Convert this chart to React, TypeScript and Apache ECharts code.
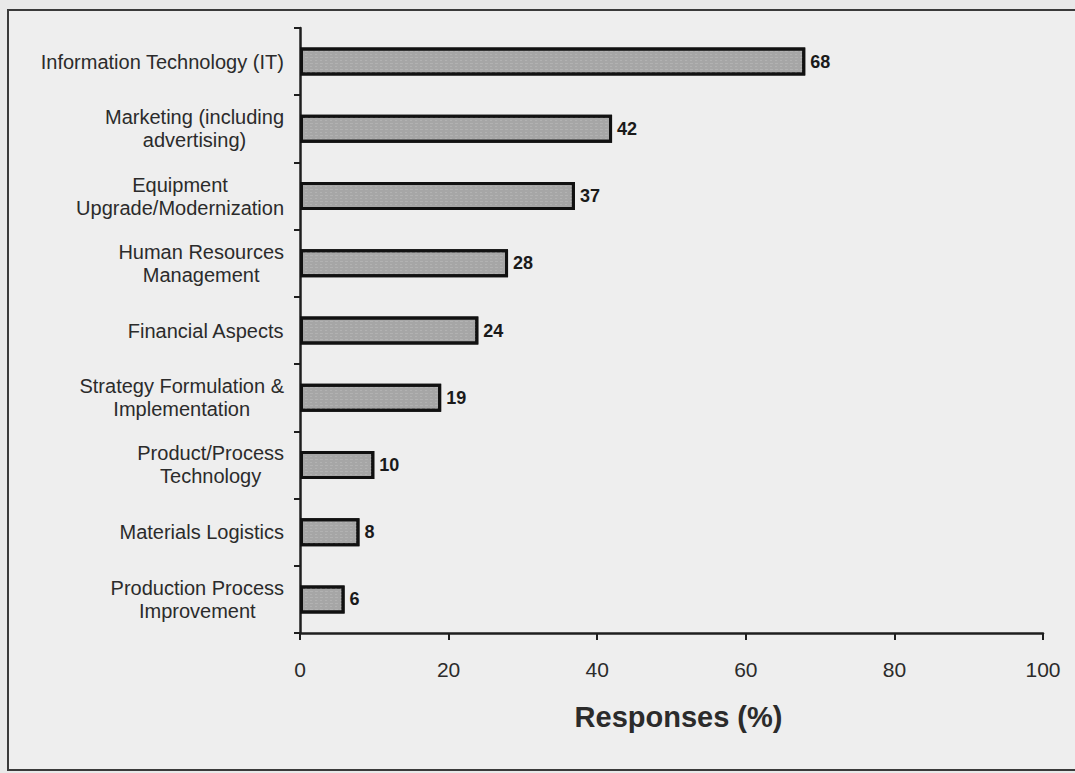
import React, { useEffect, useRef } from "react";
import * as echarts from "echarts";

// Improvement areas, listed top to bottom; "\n" splits the two-line labels.
const categories: string[] = [
  "Information Technology (IT)",
  "Marketing (including\nadvertising)",
  "Equipment\nUpgrade/Modernization",
  "Human Resources\nManagement",
  "Financial Aspects",
  "Strategy Formulation &\nImplementation",
  "Product/Process\nTechnology",
  "Materials Logistics",
  "Production Process\nImprovement",
];

// Share of responses (%) per area.
const responses: number[] = [68, 42, 37, 28, 24, 19, 10, 8, 6];

const xTicks = { min: 0, max: 100, interval: 20 };
const xTitle = "Responses (%)";

const TEXT = "#2b2b2b";
const LINE = "#1e1e1e";

export default function App() {
  const ref = useRef<HTMLDivElement>(null);

  useEffect(() => {
    document.body.style.margin = "0";
    document.body.style.background = "#e9e9e9";
    if (!ref.current) return;
    const chart = echarts.init(ref.current, null, { renderer: "svg" });

    chart.setOption({
      animation: false,
      backgroundColor: "#e9e9e9",
      textStyle: { fontFamily: "Arial, 'Liberation Sans', sans-serif" },
      graphic: [
        {
          type: "rect",
          z: -10,
          shape: { x: 8, y: 10, width: 1080, height: 760 },
          style: { fill: "#eeeeee", stroke: "#3a3a3a", lineWidth: 2 },
        },
      ],
      grid: { left: 300, right: 32, top: 28, bottom: 140, containLabel: false },
      xAxis: {
        type: "value",
        min: xTicks.min,
        max: xTicks.max,
        interval: xTicks.interval,
        splitLine: { show: false },
        axisLine: { show: true, lineStyle: { color: LINE, width: 2.5 } },
        axisTick: { show: true, length: 7, lineStyle: { color: LINE, width: 2 } },
        axisLabel: { color: TEXT, fontSize: 21, margin: 26 },
        name: xTitle,
        nameLocation: "middle",
        nameGap: 69,
        nameTextStyle: { color: TEXT, fontSize: 29, fontWeight: "bold", padding: [0, 0, 0, 14] },
      },
      yAxis: {
        type: "category",
        data: categories,
        inverse: true,
        axisLine: { show: true, lineStyle: { color: LINE, width: 2.5 } },
        axisTick: { show: true, length: 6, lineStyle: { color: LINE, width: 2 } },
        axisLabel: {
          margin: 16,
          color: TEXT,
          fontSize: 20,
          lineHeight: 23,
          formatter: (v: string) =>
            v
              .split("\n")
              .map((line) => `{c|${line}}`)
              .join("\n"),
          rich: { c: { align: "center", fontSize: 20, lineHeight: 23, color: TEXT } },
        },
      },
      series: [
        {
          type: "bar",
          data: responses,
          barWidth: 28,
          itemStyle: {
            color: "#a6a6a6",
            borderColor: "#111111",
            borderWidth: 3,
            decal: {
              symbol: "rect",
              symbolSize: 1,
              dashArrayX: [[3, 2], [2, 3]],
              dashArrayY: [1, 2],
              color: "rgba(200,200,200,0.35)",
              rotation: 0,
            },
          },
          label: {
            show: true,
            position: "right",
            distance: 5,
            color: "#1a1a1a",
            fontSize: 18,
            fontWeight: "bold",
          },
        },
      ],
    });

    return () => chart.dispose();
  }, []);

  return <div ref={ref} style={{ width: 1075, height: 773 }} />;
}
